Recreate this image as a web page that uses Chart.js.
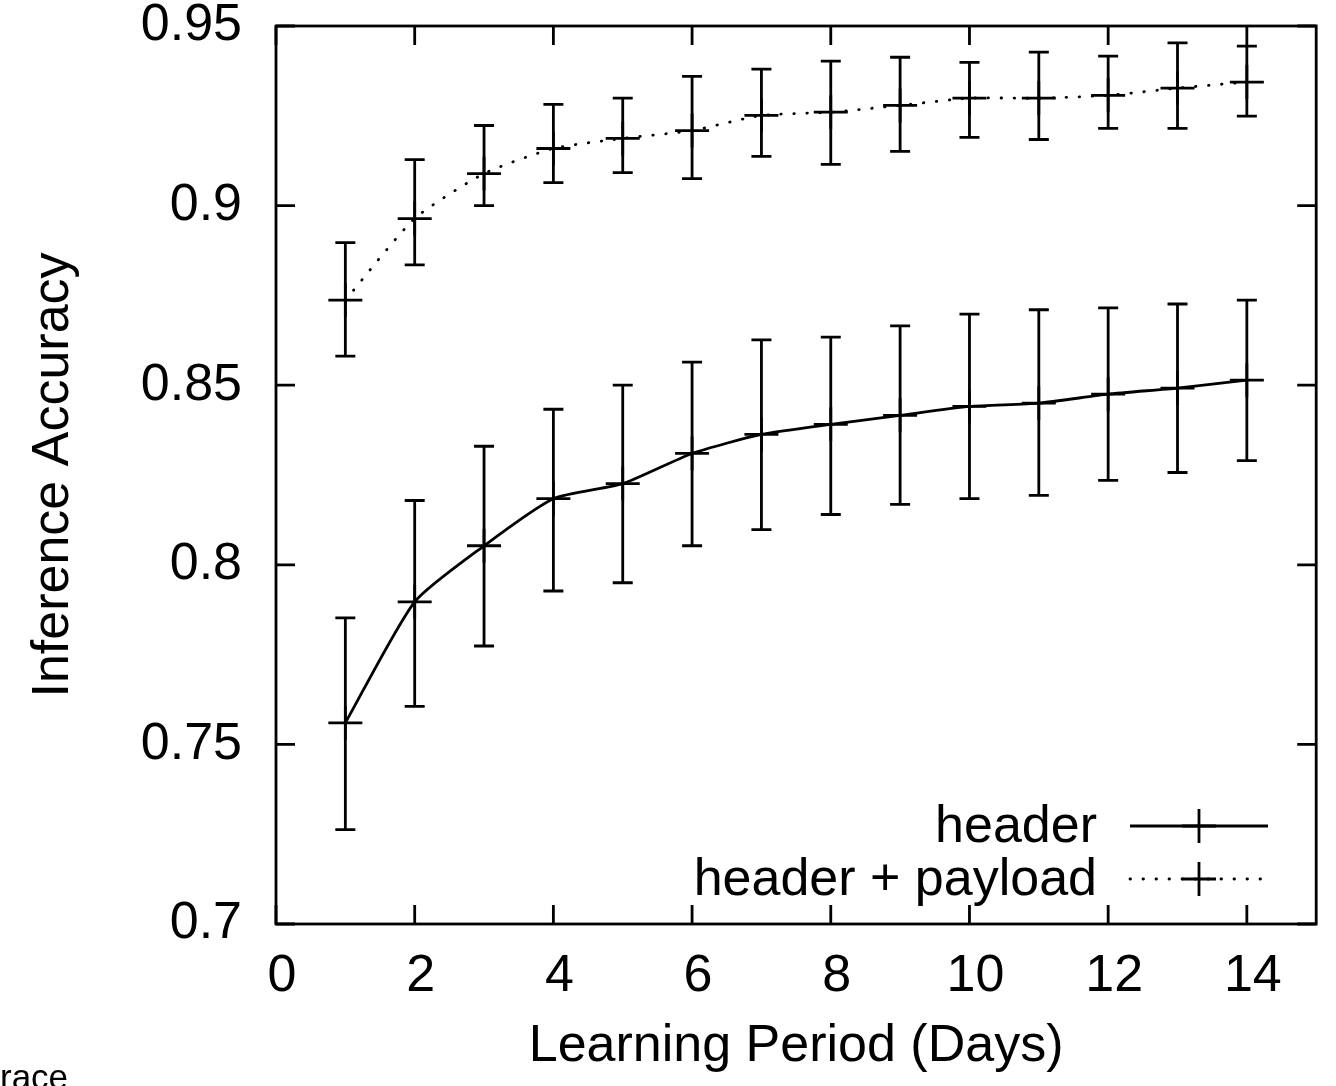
<!DOCTYPE html>
<html>
<head>
<meta charset="utf-8">
<script src="https://cdn.jsdelivr.net/npm/chart.js@4.4.1/dist/chart.umd.min.js"></script>
<style>
  html, body { margin: 0; padding: 0; background: #fff; overflow: hidden; }
  #wrap { position: relative; width: 1336px; height: 1086px; overflow: hidden; }
  #c { display: block; }
  #note { position: absolute; left: 0; top: 1057px; margin: 0; line-height: 1;
          font: 35px "Liberation Sans", Arial, sans-serif; color: #000; white-space: nowrap; }
</style>
</head>
<body>
<div id="wrap">
  <canvas id="c" width="1336" height="1086"></canvas>
  <div id="note">race</div>
</div>
<script>
// Learning period in days
const days = [1, 2, 3, 4, 5, 6, 7, 8, 9, 10, 11, 12, 13, 14];

// "header" features only: mean accuracy and error-bar range
const headerMean = [0.7560, 0.7897, 0.8053, 0.8184, 0.8226, 0.8310, 0.8363, 0.8391, 0.8416, 0.8441, 0.8450, 0.8475, 0.8492, 0.8514];
const headerLow  = [0.7263, 0.7606, 0.7774, 0.7927, 0.7950, 0.8053, 0.8098, 0.8140, 0.8168, 0.8184, 0.8193, 0.8235, 0.8257, 0.8290];
const headerHigh = [0.7852, 0.8179, 0.8330, 0.8433, 0.8500, 0.8564, 0.8626, 0.8634, 0.8665, 0.8698, 0.8710, 0.8715, 0.8726, 0.8737];

// "header + payload" features
const payloadMean = [0.8737, 0.8964, 0.9089, 0.9159, 0.9187, 0.9209, 0.9251, 0.9260, 0.9279, 0.9299, 0.9299, 0.9307, 0.9327, 0.9344];
const payloadLow  = [0.8581, 0.8835, 0.9000, 0.9064, 0.9092, 0.9075, 0.9137, 0.9115, 0.9151, 0.9190, 0.9184, 0.9215, 0.9215, 0.9249];
const payloadHigh = [0.8897, 0.9128, 0.9223, 0.9282, 0.9299, 0.9360, 0.9380, 0.9402, 0.9413, 0.9399, 0.9427, 0.9416, 0.9453, 0.9444];

const seriesNames = ['header', 'header + payload'];

const xTickValues = [0, 2, 4, 6, 8, 10, 12, 14];
const yTickValues = [0.7, 0.75, 0.8, 0.85, 0.9, 0.95];

const FONT = '"Liberation Sans", Arial, Helvetica, sans-serif';
const INK = '#000';
const LW = 2.8;

Chart.defaults.font.family = FONT;
Chart.defaults.color = INK;

function points(ys) { return days.map((d, i) => ({ x: d, y: ys[i] })); }

// error bars with short caps, drawn through the chart scales
const errorBars = {
  id: 'errorBars',
  afterDatasetsDraw(chart) {
    const { ctx, scales: { x, y } } = chart;
    ctx.save();
    ctx.strokeStyle = INK;
    ctx.lineWidth = LW;
    ctx.lineCap = 'butt';
    chart.data.datasets.forEach(ds => {
      ds.data.forEach((p, i) => {
        const px = x.getPixelForValue(p.x);
        const pLo = y.getPixelForValue(ds.errLow[i]);
        const pHi = y.getPixelForValue(ds.errHigh[i]);
        ctx.beginPath();
        ctx.moveTo(px, pLo); ctx.lineTo(px, pHi);
        ctx.moveTo(px - 10, pLo); ctx.lineTo(px + 10, pLo);
        ctx.moveTo(px - 10, pHi); ctx.lineTo(px + 10, pHi);
        ctx.stroke();
      });
    });
    ctx.restore();
  }
};

// closed frame with inward tick marks on all four sides
const frame = {
  id: 'frame',
  afterDraw(chart) {
    const { ctx, chartArea: a, scales: { x, y } } = chart;
    const len = 19;
    ctx.save();
    ctx.strokeStyle = INK;
    ctx.lineWidth = LW;
    ctx.strokeRect(a.left, a.top, a.right - a.left, a.bottom - a.top);
    ctx.beginPath();
    xTickValues.forEach(v => {
      const px = x.getPixelForValue(v);
      ctx.moveTo(px, a.bottom); ctx.lineTo(px, a.bottom - len);
      ctx.moveTo(px, a.top); ctx.lineTo(px, a.top + len);
    });
    yTickValues.forEach(v => {
      const py = y.getPixelForValue(v);
      ctx.moveTo(a.left, py); ctx.lineTo(a.left + len, py);
      ctx.moveTo(a.right, py); ctx.lineTo(a.right - len, py);
    });
    ctx.stroke();
    ctx.restore();
  }
};

// key in the lower right: right-aligned label, then a line sample with the point symbol
const keyBox = {
  id: 'keyBox',
  afterDraw(chart) {
    const { ctx } = chart;
    const textRight = 1097, sampleL = 1130, sampleR = 1268, rows = [826, 879];
    ctx.save();
    ctx.font = '52px ' + FONT;
    ctx.fillStyle = INK;
    ctx.textAlign = 'right';
    ctx.textBaseline = 'middle';
    chart.data.datasets.forEach((ds, i) => {
      const yy = rows[i];
      ctx.fillText(ds.label, textRight, yy + 2);
      ctx.strokeStyle = INK;
      ctx.lineWidth = LW;
      ctx.setLineDash(ds.borderDash || []);
      ctx.lineCap = ds.borderCapStyle || 'butt';
      ctx.beginPath();
      ctx.moveTo(sampleL, yy); ctx.lineTo(sampleR, yy);
      ctx.stroke();
      ctx.setLineDash([]);
      ctx.lineCap = 'butt';
      const cx = (sampleL + sampleR) / 2, r = 17;
      ctx.beginPath();
      ctx.moveTo(cx - r, yy); ctx.lineTo(cx + r, yy);
      ctx.moveTo(cx, yy - r); ctx.lineTo(cx, yy + r);
      ctx.stroke();
    });
    ctx.restore();
  }
};

const seriesStyle = {
  borderColor: INK,
  backgroundColor: INK,
  borderWidth: LW,
  pointStyle: 'cross',
  pointRadius: 17,
  pointBorderWidth: LW,
  pointBorderColor: INK,
  tension: 0.2,
  fill: false
};

// plot box edges are fixed; tick labels may overhang them
function noOverhang(s) {
  s.paddingTop = 0; s.paddingBottom = 0; s.paddingLeft = 0; s.paddingRight = 0;
}

new Chart(document.getElementById('c'), {
  type: 'line',
  data: {
    datasets: [
      Object.assign({}, seriesStyle, {
        label: seriesNames[0],
        data: points(headerMean),
        errLow: headerLow, errHigh: headerHigh
      }),
      Object.assign({}, seriesStyle, {
        label: seriesNames[1],
        data: points(payloadMean),
        errLow: payloadLow, errHigh: payloadHigh,
        borderDash: [0.5, 12.5],
        borderCapStyle: 'round'
      })
    ]
  },
  options: {
    responsive: false,
    animation: false,
    layout: { padding: { top: 26, right: 10, left: 0, bottom: 0 } },
    plugins: { legend: { display: false }, tooltip: { enabled: false } },
    scales: {
      x: {
        type: 'linear',
        min: 0, max: 15,
        afterBuildTicks: s => { s.ticks = xTickValues.map(v => ({ value: v })); },
        afterFit: s => { s.height = 162; noOverhang(s); },
        grid: { display: false, drawTicks: false },
        border: { display: false },
        ticks: { font: { size: 52 }, padding: 21, labelOffset: 6, maxRotation: 0, autoSkip: false, color: INK },
        title: { display: true, text: 'Learning Period (Days)', font: { size: 52 }, color: INK, padding: { top: 0, bottom: 8 } }
      },
      y: {
        type: 'linear',
        min: 0.7, max: 0.95,
        afterBuildTicks: s => { s.ticks = yTickValues.map(v => ({ value: v })); },
        afterFit: s => { s.width = 276; noOverhang(s); },
        grid: { display: false, drawTicks: false },
        border: { display: false },
        ticks: { font: { size: 52 }, padding: 34, color: INK,
                 callback: v => String(Number(v.toFixed(2))) },
        title: { display: true, text: 'Inference Accuracy', font: { size: 52 }, color: INK, padding: { top: 22, bottom: 0 } }
      }
    }
  },
  plugins: [errorBars, frame, keyBox]
});
</script>
</body>
</html>
